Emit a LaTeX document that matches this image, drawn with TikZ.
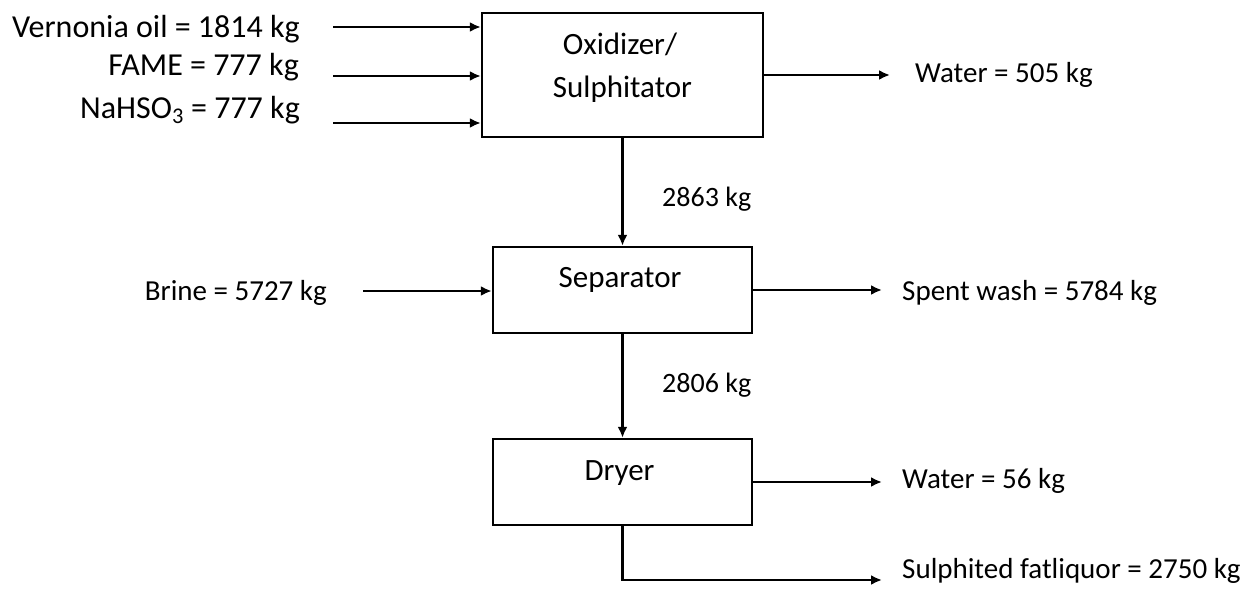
\documentclass[tikz,border=0pt]{standalone}
\usepackage{fontspec}
\setmainfont{Carlito}
\usetikzlibrary{arrows.meta}
\begin{document}
\begin{tikzpicture}[x=1pt,y=-1pt,
  box/.style={draw,line width=2.4pt,minimum width=#1,inner sep=0pt},
  arr/.style={line width=2.4pt,-{Latex[length=11pt,width=10pt]}},
  txtL/.style={font=\fontsize{32}{38}\selectfont,inner sep=0pt},
  txtB/.style={font=\fontsize{31}{37}\selectfont,inner sep=0pt},
  txtR/.style={font=\fontsize{29}{35}\selectfont,inner sep=0pt},
  txtM/.style={font=\fontsize{28}{34}\selectfont,inner sep=0pt}]
\useasboundingbox (0,0) rectangle (1246,591);
% boxes
\node[box=281pt,minimum height=124pt] (ox) at (622.5,75) {};
\node[box=259pt,minimum height=86pt] (sep) at (622.5,290) {};
\node[box=259pt,minimum height=86pt] (dry) at (622.5,482) {};
\node[txtB,anchor=base] (oxt1) at (620,55) {Oxidizer/};
\node[txtB,anchor=base] (oxt2) at (622.5,98) {Sulphitator};
\node[txtB,anchor=base] (sept) at (620,287) {Separator};
\node[txtB,anchor=base] (dryt) at (619.5,480) {Dryer};
% inputs to oxidizer
\coordinate (i1) at (333,27);
\coordinate (i2) at (333,76);
\coordinate (i3) at (333,123);
\draw[arr] (i1) -- (i1 -| ox.west);
\draw[arr] (i2) -- (i2 -| ox.west);
\draw[arr] (i3) -- (i3 -| ox.west);
\node[txtL,anchor=base east] (l1) at (300,38) {Vernonia oil = 1814 kg};
\node[txtL,anchor=base east] (l2) at (299,76) {FAME = 777 kg};
\node[txtL,anchor=base east] (l3) at (300,118) {NaHSO\textsubscript{3} = 777 kg};
% water out
\coordinate (w1) at (890,75);
\draw[arr] (ox.east |- w1) -- (w1);
\node[txtR,anchor=base west] (lw1) at (915,83) {Water = 505 kg};
% oxidizer to separator
\draw[arr] (ox.south) -- (sep.north);
\node[txtM,anchor=base west] (m1) at (662,206) {2863 kg};
% brine
\coordinate (b1) at (363,291);
\draw[arr] (b1) -- (b1 -| sep.west);
\node[txtR,anchor=base east] (lb) at (327,300) {Brine = 5727 kg};
% spent wash
\coordinate (s1) at (882,290);
\draw[arr] (sep.east |- s1) -- (s1);
\node[txtR,anchor=base west] (ls) at (902,300) {Spent wash = 5784 kg};
% separator to dryer
\draw[arr] (sep.south) -- (dry.north);
\node[txtM,anchor=base west] (m2) at (662,392) {2806 kg};
% dryer water
\coordinate (w2) at (882,482);
\draw[arr] (dry.east |- w2) -- (w2);
\node[txtR,anchor=base west] (lw2) at (902,488) {Water = 56 kg};
% product
\coordinate (p0) at (622.5,580);
\coordinate (p1) at (882,580);
\draw[arr] (dry.south) -- (p0) -- (p1);
\node[txtR,anchor=base west] (lp) at (902,578) {Sulphited fatliquor = 2750 kg};
\end{tikzpicture}
\end{document}
